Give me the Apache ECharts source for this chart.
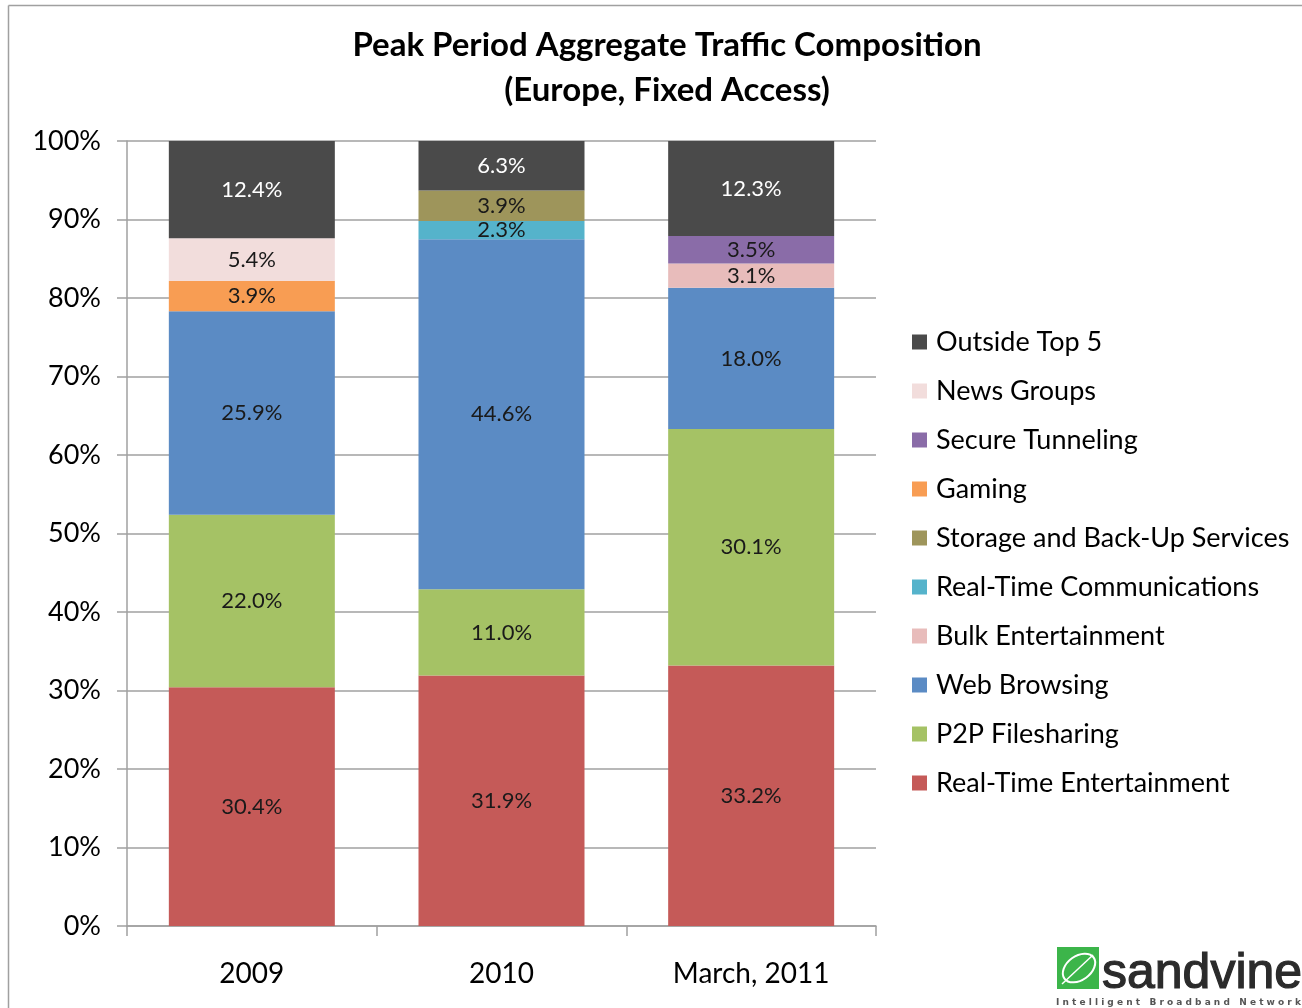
<!DOCTYPE html>
<html><head><meta charset="utf-8">
<script src="https://cdn.jsdelivr.net/npm/echarts@6/dist/echarts.min.js"></script>
<style>html,body{margin:0;padding:0;background:#fff}#c{width:1302px;height:1008px}</style>
</head><body><div id="c"></div>
<script>
const categories = ['2009', '2010', 'March, 2011'];
const seriesNames = ['Real-Time Entertainment','P2P Filesharing','Web Browsing','Bulk Entertainment','Real-Time Communications','Storage and Back-Up Services','Gaming','Secure Tunneling','News Groups','Outside Top 5'];
const realTimeEntertainment = [30.4, 31.9, 33.2];
const p2pFilesharing = [22.0, 11.0, 30.1];
const webBrowsing = [25.9, 44.6, 18.0];
const bulkEntertainment = [null, null, 3.1];
const realTimeCommunications = [null, 2.3, null];
const storageBackup = [null, 3.9, null];
const gaming = [3.9, null, null];
const secureTunneling = [null, null, 3.5];
const newsGroups = [5.4, null, null];
const outsideTop5 = [12.4, 6.3, 12.3];
const yTicks = [0,10,20,30,40,50,60,70,80,90,100];

const values = [realTimeEntertainment,p2pFilesharing,webBrowsing,bulkEntertainment,realTimeCommunications,storageBackup,gaming,secureTunneling,newsGroups,outsideTop5];
const displayColors = ['#c55a58','#a5c265','#5b8bc4','#e8bcbb','#55b3cb','#9e955b','#f89d53','#8a6ca8','#f2dddc','#4a4a4a'];
const FONT = 'Lato';

const chart = echarts.init(document.getElementById('c'));
const series = seriesNames.map((n,i)=>({
  name:n, type:'bar', stack:'total', barWidth:166,
  data: values[i],
  itemStyle:{color: displayColors[i]},
  label:{show:true, position:'inside', formatter:p=>p.value==null?'':p.value.toFixed(1)+'%',
    color: i===9 ? '#ffffff' : '#1a1a1a', fontSize:22, fontFamily:FONT},
  emphasis:{disabled:true}
}));

chart.setOption({
  animation:false,
  title:{text:'Peak Period Aggregate Traffic Composition\n(Europe, Fixed Access)', left:662, textAlign:'center', top:18,
    textStyle:{fontSize:33, fontWeight:'bold', fontFamily:FONT, color:'#000', lineHeight:45}},
  grid:{left:127, right:426, top:141, bottom:82},
  legend:{orient:'vertical', left:907, top:323.5, itemWidth:15, itemHeight:15, itemGap:22,
    data: seriesNames.slice().reverse(), icon:'rect',
    textStyle:{fontSize:27, fontFamily:FONT, color:'#000', padding:[0,0,0,4]}},
  xAxis:{type:'category', data:categories,
    axisLine:{lineStyle:{color:'#a0a0a0', width:1.5}},
    axisTick:{show:true, alignWithLabel:false, length:10, lineStyle:{color:'#a0a0a0', width:1.5}},
    axisLabel:{fontSize:28, fontFamily:FONT, color:'#000', margin:34}},
  yAxis:{type:'value', min:0, max:100, interval:10,
    axisLine:{show:true, lineStyle:{color:'#a0a0a0', width:1.5}},
    axisTick:{show:true, length:10, lineStyle:{color:'#a0a0a0', width:1.5}},
    splitLine:{lineStyle:{color:'#a0a0a0', width:1.5}},
    axisLabel:{fontSize:27, fontFamily:FONT, color:'#000', margin:26, formatter:v=>v+'%'}},
  series: series,
  graphic:[
    {type:'line', shape:{x1:8.5,y1:5.5,x2:1302,y2:5.5}, style:{stroke:'#a0a0a0', lineWidth:1.5}},
    {type:'line', shape:{x1:8.5,y1:5.5,x2:8.5,y2:1008}, style:{stroke:'#a0a0a0', lineWidth:1.5}},
    {type:'rect', shape:{x:1057,y:947,width:42,height:42}, style:{fill:'#3cb54a'}},
    {type:'ellipse', x:1079, y:968, rotation:Math.PI/5, shape:{cx:0,cy:0,rx:18,ry:12}, style:{fill:'none', stroke:'#ffffff', lineWidth:2}},
    {type:'line', shape:{x1:1062,y1:984,x2:1093,y2:955}, style:{stroke:'#ffffff', lineWidth:1.5}},
    {type:'text', x:1102, y:999, style:{text:'sandvine', font:'50px "Liberation Sans"', fill:'#2b2b2b', stroke:'#2b2b2b', lineWidth:1.2, textVerticalAlign:'bottom'}},
    {type:'text', x:1056, y:1007, style:{text:'I n t e l l i g e n t   B r o a d b a n d   N e t w o r k s', font:'bold 9px "DejaVu Sans"', fill:'#555', textVerticalAlign:'bottom'}}
  ]
});
</script></body></html>
